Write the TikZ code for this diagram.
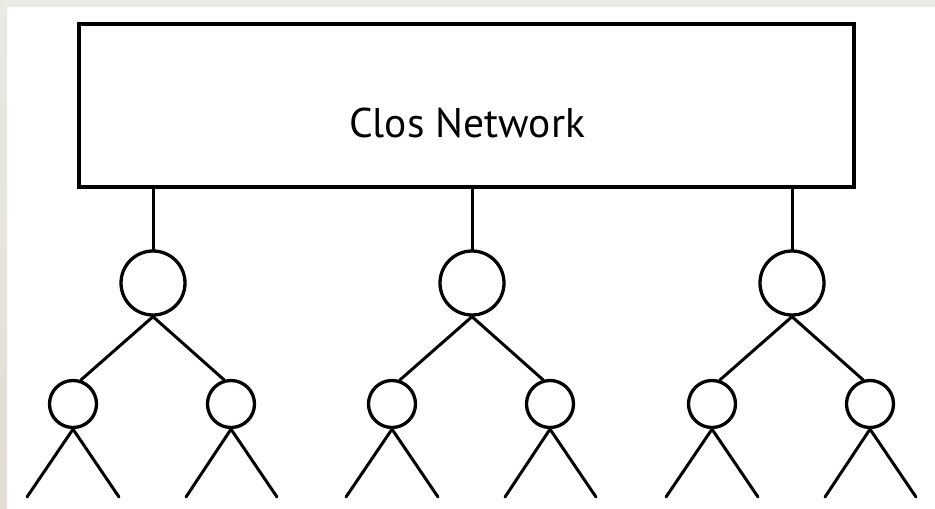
\documentclass[tikz,border=0pt]{standalone}
\usepackage{fontspec}
\setmainfont{PT Sans}
\definecolor{frametop}{RGB}{232,235,230}
\definecolor{frameleftA}{RGB}{232,234,228}
\definecolor{frameleftB}{RGB}{227,221,210}
\begin{document}
\begin{tikzpicture}[x=1pt,y=-1pt,
  wire/.style={line width=3pt,line cap=round},
  bigsw/.style={circle,draw,line width=3.3pt,minimum size=64pt,inner sep=0pt},
  smallsw/.style={circle,draw,line width=3.3pt,minimum size=47pt,inner sep=0pt},
  closbox/.style={draw,line width=3.3pt,minimum width=775pt,minimum height=163pt,inner sep=0pt}]
  % page frame
  \useasboundingbox (0,0) rectangle (935,509);
  \fill[white] (0,0) rectangle (935,509);
  \shade[top color=frameleftA,bottom color=frameleftB] (0,0) rectangle (7,509);
  \fill[frametop] (7,0) rectangle (935,7);

  % central switching fabric
  \node[closbox] (clos) at (466.5,105.5) {};
  \node[anchor=base,font=\fontsize{41.5}{41.5}\selectfont] (lbl) at (467,137) {Clos Network};

  % three binary trees hanging from the fabric
  \foreach \i/\cx in {1/153,2/472,3/792}{
    \node[bigsw] (r\i) at (\cx,283) {};
    \node[smallsw] (a\i) at (\cx-80,404) {};
    \node[smallsw] (b\i) at (\cx+78,404) {};
    \coordinate (top\i) at (\cx,187);
    \coordinate (a\i l) at (\cx-126,497);
    \coordinate (a\i r) at (\cx-34,497);
    \coordinate (b\i l) at (\cx+33,497);
    \coordinate (b\i r) at (\cx+124,497);
    \draw[wire] (top\i) -- (r\i.north);
    \draw[wire] (r\i.south) -- (a\i.72);
    \draw[wire] (r\i.south) -- (b\i.106);
    \draw[wire] (a\i.south) -- (a\i l);
    \draw[wire] (a\i.south) -- (a\i r);
    \draw[wire] (b\i.south) -- (b\i l);
    \draw[wire] (b\i.south) -- (b\i r);
  }
\end{tikzpicture}
\end{document}
